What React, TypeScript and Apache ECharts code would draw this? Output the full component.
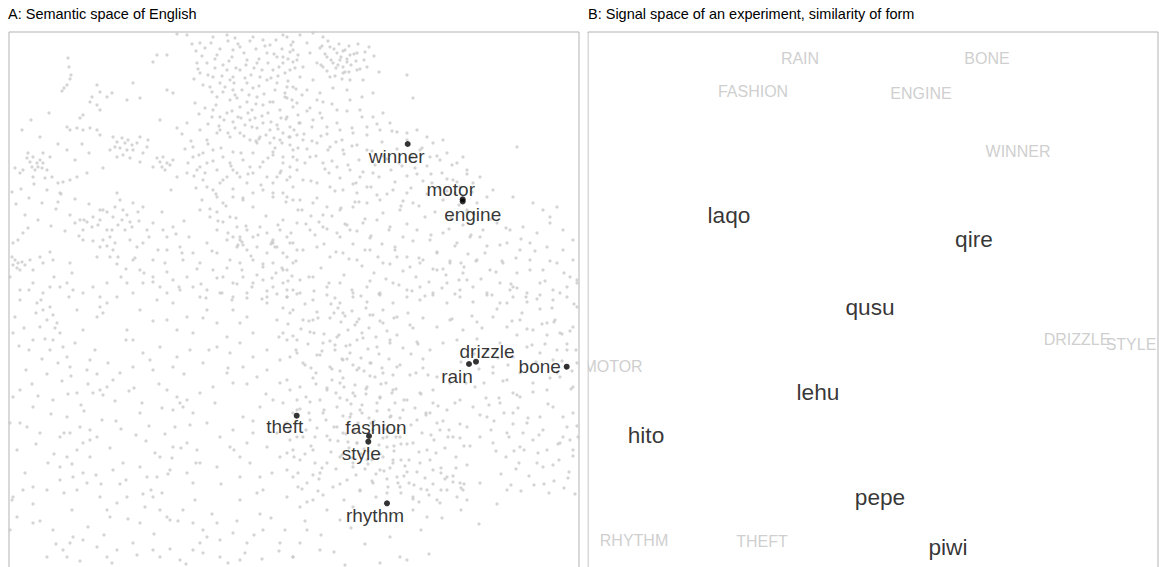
import React, { useEffect, useRef } from "react";
import * as echarts from "echarts";

// Panel A: background vocabulary points (approximate positions, panel units 0..570, y downwards)
const bgTopLeft: number[][] = [
[168,2],[178,3],[191,11],[204,5],[218,3],[226,6],[231,15],[244,5],[254,8],[261,13],[274,3],[284,10],[281,20],[268,25],[258,21],[248,31],[238,28],[224,18],[208,23],[198,31],[191,41],[204,45],[218,38],[231,38],[221,48],[211,51],[224,58],[238,51],[251,45],[264,38],[274,31],[284,30],
[144,30],[148,23],[158,23],[188,31],
[59,26],[60,35],[62,43],[61,47],[58,53],[55,56],[53,59],
[124,51],[88,53],[91,60],[83,65],[81,70],[88,73],[91,78],[98,65],[103,61],
[74,83],[71,86],[58,95],[61,98],[68,96],[74,98],[81,96],[88,98],[91,103],
[118,68],[131,66],[158,58],[164,61],[151,88],[168,96],[178,91],[191,98],[198,108],[208,101],
[104,105],[108,110],[113,106],[116,111],[119,108],[123,113],[118,118],[114,123],[111,116],[106,115],[101,118],[124,118],[128,111],[131,105],[134,121],[138,115],[108,125],[121,126],[131,130],[139,108],
[148,126],[151,130],[154,125],[158,131],[153,135],[156,138],[161,133],[164,128],[144,135],
[168,145],[178,141],[184,125],[191,135],
[18,126],[21,130],[24,125],[28,131],[31,128],[29,135],[33,136],[34,131],[38,138],[26,138],[23,135],[19,121],[34,121],[41,125],[43,145],[14,138],[11,141],[6,136],[36,146],[24,145],
[49,151],[54,150],[61,148],[68,145],[78,141],[51,161],[49,170],
[188,138],[194,148],[198,155],[204,158],[211,151],[218,145],[224,138],[231,145],[238,151],[244,141],[251,135],[258,145],[264,151],[271,141],[278,148],[284,155],[288,138],[208,165],[214,171],[224,165],[234,168],[244,161],[254,158],[264,165],[274,161],[284,168],
[201,55],[208,65],[214,60],[221,68],[226,63],[231,75],[238,70],[243,78],[248,65],[254,73],[259,81],[264,70],[271,78],[278,66],[284,75],[289,83],[204,78],[211,85],[218,81],[224,90],[229,85],[236,93],[241,88],[248,96],[254,91],[261,98],[268,93],[274,101],[281,95],[288,103],[211,98],[221,105],[231,101],[241,108],[251,105],[261,111],[271,108],[281,113],[268,51],[278,55],[224,45],[244,56],
[184,115],[194,121],[204,118],[214,125],[224,120],[234,128],[244,121],[254,130],[264,123],[274,131],[284,125],[198,131],[208,138],[221,131],[228,141],[241,135],[268,145],[281,135],
[248,111],[266,116],[264,120],
[108,161],[111,168],[106,175],[114,178],[118,183],[113,188],[121,190],[123,195],[116,198],[109,193],[104,185],[98,180],[91,178],[84,185],[78,190],[71,188],[66,191],[74,198],[83,195],[91,188],[98,198],[101,205],[106,211],[104,218],[109,225],[101,225],[94,208],[124,171],[129,180],[134,175],[134,211],[128,215],[138,198],[144,191],[74,208],[91,215],[88,225],
[154,198],[158,205],[164,195],[171,215],[173,221],[174,228],[158,218],[156,231],[144,228],
[4,211],[9,208],[14,201],[19,196],[3,225],[6,228],[9,231],[13,230],[16,233],[8,236],[4,233],[11,238],[21,228],[24,238],[1,245],[31,225],[34,231],[41,220],[44,228],
[61,231],[63,241],[58,251],[64,258],[51,255],
[191,178],[201,185],[208,180],[214,190],[221,185],[228,195],[224,205],[231,208],[238,198],[244,205],[251,195],[258,201],[264,208],[271,198],[278,205],[284,211],[208,198],[218,208],[228,215],[238,218],[248,215],[258,221],[268,215],[278,225],[288,218],[198,211],[208,221],[221,228],[231,231],[244,228],[254,235],[264,231],[274,238],[284,231],[191,231],[204,238],[214,245],[224,251],[234,245],[244,251],[254,248],[264,255],[274,251],[284,258],[198,258],[211,261],[224,265],[238,261],[258,265],[278,265],[231,205],[233,210],[234,213],[263,210],[264,211],[266,215],
[124,228],[131,238],[118,251],[124,261],[134,251],[144,245],[151,255],[158,261],[164,248],[171,258],[178,245],[184,255],
[24,251],[34,261],[41,255],[11,258],[74,261],[84,255],[91,265],[98,251]
];

const bgTopRight: number[][] = [
[278,5],[291,3],[304,1],[314,5],[298,11],[284,18],[274,25],[288,28],[301,21],[311,16],[321,15],[328,21],[331,28],[324,31],[329,33],[334,35],[338,30],[341,23],[336,18],[348,21],[356,20],[318,25],[314,35],[308,31],[294,35],[281,38],[291,45],[304,48],[321,45],[334,41],[348,38],[358,35],[341,48],[354,48],[338,58],[324,56],[311,61],[298,58],[284,55],[276,65],[288,71],[301,76],[314,70],[328,78],[341,68],[353,65],[364,61],[404,66],[398,43],
[351,78],[364,85],[374,81],[381,91],[371,98],[358,95],[388,100],[398,101],[408,98],[418,105],[424,111],[434,108],[411,118],[421,125],[431,128],[438,121],[448,131],[454,125],[458,138],[444,148],[451,155],[464,151],[471,145],[478,165],[484,158],[468,171],[458,178],[504,165],[508,115],[524,171],[534,178],[541,185],[548,175],
[278,85],[291,91],[304,88],[318,95],[331,98],[344,101],[281,105],[294,108],[308,111],[321,115],[334,118],[274,125],[288,128],[301,125],[314,131],[328,135],[341,138],[351,145],[281,145],[294,148],[308,151],[321,155],[334,158],[348,161],[358,155],[364,141],[278,165],[291,168],[304,171],[318,175],[331,178],[344,175],[358,171],[371,168],[384,158],[398,161],[404,171],[391,178],[311,81],[346,170],
[274,188],[288,191],[301,198],[314,195],[328,201],[341,198],[354,191],[368,188],[381,195],[394,205],[408,198],[421,208],[434,201],[448,211],[461,205],[474,198],[488,191],[501,198],[514,195],[528,201],[541,191],[554,198],[564,208],[281,211],[294,218],[308,215],[321,225],[334,221],[348,228],[361,218],[374,231],[388,225],[401,235],[414,228],[428,238],[441,231],[454,241],[468,228],[481,238],[494,231],[508,241],[521,228],[534,238],[548,231],[561,245],[278,238],[291,248],[304,245],[318,255],[331,251],[344,261],[358,255],[371,261],[384,251],[398,258],[411,255],[424,261],[438,251],[451,258],[464,255],[478,261],[491,251],[501,258],[504,255],[508,256],[518,261],[531,251],[544,258],[558,255],[568,248],[564,228],[521,211],[538,215],[554,218],[511,218],[498,211]
];

const bgBottomLeft: number[][] = [
[11,268],[28,271],[34,278],[41,275],[44,283],[38,288],[48,291],[31,295],[51,301],[44,308],[54,315],[41,318],[58,325],[61,335],[24,308],[68,278],[74,298],[81,328],[91,275],[94,281],[88,285],[98,271],[108,265],[118,298],[124,308],[131,278],[148,268],[158,288],[164,271],[178,285],[184,301],[191,265],[198,278],[208,291],[218,305],[224,278],[231,291],[238,285],[244,301],[258,271],[268,288],[278,308],[284,278],[288,321],[271,328],[258,318],[244,325],[231,311],[221,321],[208,315],[194,331],[181,318],[168,325],[151,315],[141,328],[134,321],
[111,341],[104,348],[98,355],[91,358],[84,361],[78,338],[124,335],[144,338],[164,335],[158,358],[168,365],[171,371],[174,375],[178,368],[164,378],[184,381],[191,361],[204,355],[218,341],[224,351],[234,335],[248,345],[258,338],[271,351],[281,358],[288,368],
[11,358],[4,365],[24,375],[44,368],[58,385],[11,391],[18,395],[31,401],[51,405],[61,401],[71,395],[81,398],[88,405],[74,411],[68,418],[81,425],[58,425],[51,435],[64,445],[74,441],[78,451],[68,458],[51,448],[38,458],[24,455],[14,458],[4,465],[3,468],
[131,435],[138,445],[148,445],[161,438],[151,425],[164,415],[178,411],[188,418],[184,451],[191,431],[208,435],[221,415],[231,425],[241,431],[251,445],[248,461],[254,458],[231,445],[238,411],[244,401],[258,415],[271,425],[278,438],[284,418],[268,401],[278,391],[288,405],[224,398],[211,405],[198,391],[234,385],[251,375],[264,368],
[144,465],[151,478],[158,485],[161,488],[174,478],[184,491],[194,498],[198,505],[191,511],[184,518],[208,491],[224,501],[238,511],[254,498],[271,511],[284,525],[91,465],[98,478],[101,485],[108,471],[118,465],[131,491],[124,511],[108,518],[98,525],[88,515],[74,508],[64,505],[61,511],[58,525],[44,498],[38,525],[54,518],[144,518],[151,525],[171,528],[211,525],[231,528],[1,391],[1,498],[8,485],[24,491]
];

const bgBottomRight: number[][] = [
[278,265],[291,261],[304,268],[318,263],[331,271],[344,265],[358,270],[371,263],[384,271],[398,265],[411,268],[424,263],[438,271],[451,265],[464,270],[478,263],[491,271],[504,265],[518,270],[531,263],[544,268],[558,265],[568,275],
[281,281],[294,288],[308,280],[321,286],[334,281],[348,290],[361,283],[374,291],[388,285],[401,293],[414,286],[428,295],[441,288],[454,298],[468,290],[484,285],[498,295],[511,288],[524,298],[538,291],[551,301],[564,295],
[274,301],[288,308],[301,300],[314,311],[328,305],[341,313],[354,306],[368,315],[381,308],[394,316],[408,310],[421,318],[434,311],[491,311],[504,325],[518,315],[531,321],[544,328],[558,318],[568,331],
[281,325],[294,331],[308,323],[321,335],[334,328],[348,338],[361,331],[374,341],[388,335],[401,343],[414,336],[428,345],[441,351],[484,335],[498,348],[511,341],[524,351],[538,358],[551,345],[564,355],[504,361],[511,365],[508,363],
[278,348],[291,355],[304,346],[318,358],[331,351],[344,361],[358,355],[371,365],[384,358],[398,368],[411,361],[424,371],[438,378],[451,368],[464,375],[478,385],[491,371],[504,381],[518,391],[531,385],[544,375],[558,395],[564,381],[569,405],
[274,371],[288,378],[301,370],[314,381],[328,375],[341,385],[351,378],[381,385],[394,378],[408,388],[421,381],[431,398],[444,405],[458,395],[471,405],[484,411],[498,401],[511,415],[524,408],[538,418],[551,411],[561,408],[564,418],[554,405],[534,435],[528,431],
[281,398],[294,405],[308,396],[321,408],[334,401],[348,411],[378,415],[391,405],[404,411],[418,418],
[278,421],[291,428],[304,418],[318,431],[331,425],[344,435],[358,428],[371,438],[384,431],[398,440],[411,431],[424,438],[438,445],[444,450],[451,451],[454,458],[448,465],[438,458],[458,468],
[284,445],[298,451],[311,441],[324,455],[338,448],[351,458],[364,451],[378,461],[391,455],[404,465],[418,458],[431,471],[471,451],[498,458],
[278,465],[291,475],[304,468],[318,478],[331,488],[344,475],[404,478],[418,485],[298,498],[291,511],[311,518],[284,525],[371,531],[398,528],[391,525]
];

const bgUpperBody: number[][] = [
[183,12],[187,19],[193,24],[196,16],[202,11],[206,27],[211,17],[214,33],[219,9],[223,25],[227,36],[229,12],[235,21],[237,33],[241,9],[242,43],[247,17],[250,27],[253,38],[256,14],[259,31],[262,46],[265,22],[267,8],[270,35],[273,17],[276,41],[279,27],[282,13],[286,36],[289,23],[185,47],[189,37],[194,53],[199,43],[203,60],[206,36],[213,44],[216,55],[220,29],[225,51],[228,66],[233,58],[236,46],[240,63],[245,36],[247,72],[250,54],[255,62],[258,48],[261,70],[266,58],[269,44],[272,86],[276,61],[279,49],[283,68],[287,57],[290,91],[186,71],[190,82],[196,76],[199,92],[203,85],[207,73],[210,94],[215,88],[219,101],[223,79],[226,96],[232,86],[235,104],[239,81],[243,95],[246,86],[250,107],[253,84],[257,103],[262,90],[265,106],[269,97],[273,111],[277,87],[280,105],[285,98],[289,116],
[313,14],[316,22],[319,9],[322,28],[325,17],[327,36],[330,12],[332,25],[334,19],[336,40],[338,27],[340,14],[342,33],[345,22],[347,29],[349,12],[326,44],[333,47],[340,40],[318,39],[312,33],[351,37],[355,28],[360,15],[365,24],[370,40]
];

const bgMiddleBody: number[][] = [
[295,102],[298,117],[303,109],[307,124],[312,104],[316,137],[319,118],[323,129],[327,110],[331,146],[335,122],[339,133],[343,114],[347,151],[350,128],[354,140],[358,118],[362,155],[366,133],[370,145],[374,124],[378,162],[382,138],[386,150],[390,131],[394,169],[398,144],[402,156],[406,136],[410,174],[414,149],[418,162],[422,142],[426,180],[430,156],[434,168],[438,147],[442,186],[446,161],[450,173],[454,193],[458,180],
[293,178],[297,192],[302,184],[306,203],[310,190],[315,212],[318,197],[323,184],[327,220],[331,205],[336,192],[340,227],[344,212],[348,199],[353,234],[356,218],[361,206],[365,241],[369,225],[373,212],[377,247],[381,232],[386,218],[390,253],[394,239],[398,225],[403,259],[407,245],[411,231],[416,264],[420,250],[424,237],[428,221],[433,256],[437,243],[441,229],[446,262],[450,248],[455,235],[459,222],[300,245],[305,259],[312,236],[320,251],[326,266],[335,243],[343,258],[352,264],[361,249],[370,262]
];

const bgLowerBody: number[][] = [
[274,276],[279,292],[284,304],[287,318],[292,297],[296,333],[299,312],[304,288],[307,341],[311,323],[315,302],[318,356],[323,337],[326,313],[331,366],[334,346],[338,327],[342,372],[346,353],[350,336],[353,381],[357,362],[361,344],[365,389],[368,371],[372,352],[376,397],[380,378],[383,361],[387,405],[391,386],[395,368],[398,412],[402,393],[406,376],[410,420],[413,401],[417,383],[421,428],[425,408],[428,391],[432,436],[436,416],[440,398],[444,444],[447,425],[451,406],[455,452],[458,433],[461,414],
[276,392],[281,408],[285,425],[289,441],[293,457],[297,398],[302,414],[306,431],[310,447],[314,463],[318,404],[322,420],[327,437],[331,452],[335,468],[339,410],[343,426],[347,443],[351,459],[355,417],[359,432],[363,449],[367,465],[371,422],[375,439],[379,455],[384,428],[388,445],[392,461],[396,434],[400,451],[404,467],[408,440],[412,457],[416,446],[420,463],[424,452],[428,468],[432,458],[436,447],[291,377],[300,381],[317,388],[328,395],[345,399],[362,391],[374,406],[385,414],[334,384],[315,378]
];

const bgRightSide: number[][] = [
[465,182],[471,205],[476,221],[482,187],[487,240],[491,213],[497,196],[502,252],[507,226],[512,207],[517,265],[521,238],[526,219],[531,277],[536,249],[541,229],[546,288],[551,261],[555,241],[561,299],[565,272],[568,251],
[463,284],[468,307],[473,296],[479,318],[484,341],[489,326],[494,349],[499,333],[504,392],[509,376],[514,401],[519,386],[524,360],[529,421],[534,398],[539,372],[544,433],[549,412],[554,385],[559,446],[564,424],[568,394],[466,355],[471,383],[477,366],[482,398],[487,419],[492,442],[497,425],[502,453],[507,437],[512,459],[541,346],[548,318],[557,336],[562,357],[553,302],[545,290],[536,312],[527,330],
[462,203],[467,229],[472,247],[478,214],[483,263],[488,277],[493,229],[498,271],[503,289],[508,303],[513,281],[518,297],[523,313],[528,267],[533,292],[538,303],[543,276],[548,341],[553,329],[558,312],[563,339],[567,318],[465,322],[470,337],[475,351],[480,373],[485,389],[490,366],[495,381],[500,405],[505,419],[510,431],[515,418],[520,444],[525,453],[530,403],[535,452],[540,461],[545,449],[550,428],[555,456],[560,440],[566,462]
];

const bgLeftSide: number[][] = [
[3,160],[7,172],[12,157],[16,183],[20,166],[25,152],[29,188],[33,171],[38,158],[42,194],[47,177],[52,162],[56,199],[61,183],[66,167],[70,204],[75,188],[80,172],[84,209],[89,193],[94,178],[98,214],[103,198],[108,232],[112,245],[117,237],[121,208],[126,226],[130,189],[135,241],[140,205],[144,250],[149,218],[153,180],[158,240],[162,158],[167,202],[170,255],[13,98],[22,88],[31,105],[40,81],[49,112],[58,118],[66,128],[73,112],[80,121],[94,136],[20,258],[32,268],[45,245],[60,265],
[6,285],[15,296],[20,318],[27,281],[33,327],[38,342],[46,296],[53,349],[59,362],[66,311],[72,373],[79,352],[86,318],[93,388],[99,331],[106,369],[112,397],[117,308],[125,356],[131,381],[137,409],[144,289],[150,352],[156,402],[163,426],[168,298],[175,342],[181,393],[187,431],[194,286],[200,318],[206,371],[212,452],[219,336],[225,418],[231,468],[238,352],[244,389],[251,482],[257,362],[263,441],[270,305],[276,498],[284,381],[289,455],
[4,301],[10,314],[17,338],[23,352],[29,364],[36,307],[42,382],[49,331],[55,401],[62,344],[68,361],[75,379],[81,408],[88,342],[94,363],[101,416],[107,389],[114,431],[120,359],[127,403],[133,371],[140,394],[146,421],[153,376],[159,442],[166,395],[172,416],[178,441],[63,432],[92,452],[117,448],[142,458],[27,412],[45,422],[104,438],[134,462]
];

const bgBottom: number[][] = [
[8,418],[16,441],[24,472],[31,489],[39,431],[47,512],[55,461],[63,478],[71,529],[79,495],[87,443],[95,503],[103,531],[111,452],[119,487],[128,523],[136,475],[145,502],[153,461],[161,517],[169,489],[177,532],[186,468],[194,521],[203,482],[211,508],[219,531],[228,489],[236,521],[245,503],[253,527],[262,486],[270,519],
[296,489],[312,503],[325,520],[342,496],[356,512],[367,489],[381,505],[412,498],[433,486],[452,478],[470,492],[488,472],[336,533],[420,522]
];

const bgCoreWest: number[][] = [
[173,102],[176,117],[179,131],[182,109],[185,144],[187,156],[190,123],[193,168],[196,141],[199,112],[201,177],[204,129],[207,162],[209,189],[212,116],[214,148],[217,174],[219,201],[222,134],[224,157],[227,186],[229,213],[232,121],[234,166],[237,194],[239,142],[242,224],[244,175],[247,109],[249,203],[252,153],[254,232],[257,184],[259,126],[262,212],[264,161],[267,241],[269,193],[272,139],[274,221],[277,170],[279,249],[282,201],[284,118],[287,229],[289,178],[175,189],[180,205],[184,221],[188,237],[192,252],[197,266],[203,219],[208,246],[213,261],[218,236],[223,268],[228,252],[233,238],[238,266],[243,255],[248,243],[253,267],[258,259],[263,246],[268,262],[273,236],[278,258],[283,244],[288,262]
];

const bgCoreCentre: number[][] = [
[322,272],[325,281],[329,276],[332,290],[336,284],[339,298],[343,279],[346,293],[350,287],[353,301],[357,276],[360,296],[364,283],[367,305],[371,289],[374,278],[378,299],[381,311],[385,286],[388,303],[321,309],[326,318],[330,303],[333,327],[337,314],[341,321],[344,333],[348,308],[352,326],[355,339],[359,317],[362,331],[366,345],[370,322],[373,336],[377,351],[380,327],[384,343],[387,357],[391,333],[323,348],[327,361],[331,339],[335,355],[338,368],[342,382],[346,364],[349,391],[353,373],[357,357],[360,386],[364,398],[368,379],[371,366],[375,393],[378,405],[382,384],[386,371],[389,398],[392,412],[325,395],[329,409],[333,423],[337,402],[340,416],[344,431],[348,411],[352,422],[356,437],[359,419],[363,428],[367,442],[370,413],[374,425],[378,447],[381,436],[385,419],[389,451],[392,428],[395,444],
[296,272],[300,289],[305,301],[309,286],[313,319],[302,336],[307,352],[311,368],[297,365],[301,388],[306,405],[296,422],[304,443],[313,436],[309,459],[298,470],[399,281],[404,296],[409,312],[414,327],[419,343],[424,358],[429,374],[434,389],[439,405],[402,322],[407,341],[412,362],[417,381],[422,403],[427,421],[432,441],[400,428],[405,453],[410,470],[443,287],[448,308],[452,330],[457,351],[446,371],[451,392],[455,414],[447,436],[452,456]
];

const bgCoreNorth: number[][] = [
[293,63],[298,79],[303,95],[308,68],[313,86],[318,102],[323,72],[328,91],[333,108],[338,79],[343,96],[348,113],[353,85],[358,103],[363,119],[368,92],[373,110],[378,127],[383,99],[388,117],[393,134],[398,108],[403,125],[408,142],[413,116],[418,134],[423,151],[428,124],[433,141],[438,159],[443,133],[448,150],[453,167],[458,142],[463,160],[296,131],[302,149],[308,166],[314,183],[320,141],[326,159],[332,176],[338,193],[344,152],[350,170],[356,187],[362,204],[368,163],[374,181],[380,198],[386,215],[392,174],[398,192],[404,209],[410,226],[416,185],[422,203],[428,220],[434,237],[440,197],[446,214],[452,231],[458,248]
];

// Panel A: highlighted English words
const wordsA = ["winner", "motor", "engine", "drizzle", "rain", "bone", "theft", "fashion", "style", "rhythm"];
const wordXA = [398.7, 453.7, 453.7, 467, 460, 557.7, 287.7, 360, 359.3, 378];
const wordYA = [112, 167.3, 169.5, 329.7, 332, 334.7, 383.7, 404, 409.7, 471.3];
const labelOffsetA = [[-11, 12], [-12, -10], [10, 12.5], [11, -10], [-12, 12], [-27, 0], [-12, 11], [7, -9], [-7, 12], [-12, 12]];

// Panel B: meanings (grey) and signals (black)
const meaningsB = ["RAIN", "BONE", "FASHION", "ENGINE", "WINNER", "DRIZZLE", "STYLE", "MOTOR", "RHYTHM", "THEFT"];
const meaningXB = [212, 399, 165, 333, 430, 489, 543, 25, 46, 174];
const meaningYB = [26, 26, 59, 61, 119, 307, 312, 334, 508, 509];
const signalsB = ["laqo", "qire", "qusu", "lehu", "hito", "pepe", "piwi"];
const signalXB = [141, 386, 282, 230, 58, 292, 360];
const signalYB = [183, 207, 275, 360, 403, 465, 515];

const FONT = "'Liberation Sans', Arial, Helvetica, sans-serif";

export default function App() {
  const ref = useRef<HTMLDivElement>(null);
  useEffect(() => {
    if (!ref.current) return;
    document.body.style.overflow = "hidden";
    const chart = echarts.init(ref.current, undefined, { renderer: "svg" });
    const bg = [
      ...bgTopLeft, ...bgTopRight, ...bgBottomLeft, ...bgBottomRight,
      ...bgUpperBody, ...bgMiddleBody, ...bgLowerBody, ...bgRightSide, ...bgLeftSide, ...bgBottom,
      ...bgCoreWest, ...bgCoreCentre, ...bgCoreNorth,
    ];
    const plainLabel = { textBorderWidth: 0, textBorderColor: "transparent", textShadowBlur: 0 };
    const option: any = {
      animation: false,
      backgroundColor: "#ffffff",
      title: [
        { text: "A: Semantic space of English", left: 8, top: 6, padding: 0, textStyle: { fontSize: 14.5, fontWeight: "normal", color: "#000", fontFamily: FONT } },
        { text: "B: Signal space of an experiment, similarity of form", left: 588, top: 6, padding: 0, textStyle: { fontSize: 14.5, fontWeight: "normal", color: "#000", fontFamily: FONT } },
      ],
      grid: [
        { left: 9, top: 32, width: 570, height: 570, show: true, borderColor: "#b3b3b3", borderWidth: 1, backgroundColor: "#fff" },
        { left: 588, top: 32, width: 570, height: 570, show: true, borderColor: "#b3b3b3", borderWidth: 1, backgroundColor: "#fff" },
      ],
      xAxis: [
        { gridIndex: 0, type: "value", min: 0, max: 570, show: false },
        { gridIndex: 1, type: "value", min: 0, max: 570, show: false },
      ],
      yAxis: [
        { gridIndex: 0, type: "value", min: 0, max: 570, inverse: true, show: false },
        { gridIndex: 1, type: "value", min: 0, max: 570, inverse: true, show: false },
      ],
      series: [
        {
          type: "scatter", xAxisIndex: 0, yAxisIndex: 0, data: bg, symbolSize: 3.2, silent: true,
          itemStyle: { color: "#c9c9c9" },
        },
        {
          type: "scatter", xAxisIndex: 0, yAxisIndex: 0, symbolSize: 6, silent: true,
          itemStyle: { color: "#000" },
          data: wordsA.map((w, i) => ({ name: w, value: [wordXA[i], wordYA[i]], label: { offset: labelOffsetA[i] } })),
          label: { show: true, position: "inside", formatter: "{b}", fontSize: 19, color: "#000", fontFamily: FONT, align: "center", verticalAlign: "middle", ...plainLabel },
          z: 3,
        },
        {
          type: "scatter", xAxisIndex: 1, yAxisIndex: 1, symbolSize: 1, silent: true,
          itemStyle: { color: "rgba(0,0,0,0)" },
          data: meaningsB.map((w, i) => ({ name: w, value: [meaningXB[i], meaningYB[i]] })),
          label: { show: true, position: "inside", formatter: "{b}", fontSize: 16, color: "#c2c2c2", fontFamily: FONT, align: "center", verticalAlign: "middle", ...plainLabel },
        },
        {
          type: "scatter", xAxisIndex: 1, yAxisIndex: 1, symbolSize: 1, silent: true,
          itemStyle: { color: "rgba(0,0,0,0)" },
          data: signalsB.map((w, i) => ({ name: w, value: [signalXB[i], signalYB[i]] })),
          label: { show: true, position: "inside", formatter: "{b}", fontSize: 22.7, color: "#000", fontFamily: FONT, align: "center", verticalAlign: "middle", ...plainLabel },
        },
      ],
      graphic: [
        { type: "rect", left: 580, top: 33, shape: { width: 7.5, height: 580 }, style: { fill: "#ffffff" }, z: 100, silent: true },
      ],
    };
    chart.setOption(option);
    return () => chart.dispose();
  }, []);
  return <div ref={ref} style={{ position: "fixed", left: 0, top: 0, width: 1159, height: 610 }} />;
}
